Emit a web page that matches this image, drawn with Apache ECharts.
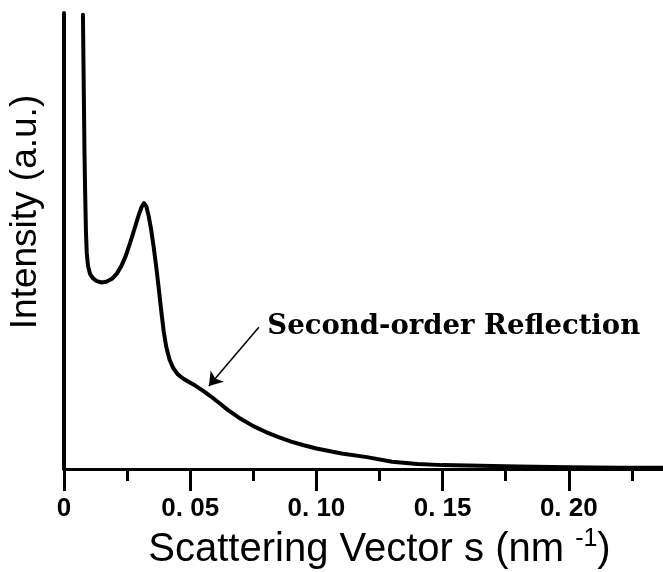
<!DOCTYPE html>
<html><head><meta charset="utf-8">
<script src="https://cdn.jsdelivr.net/npm/echarts@6/dist/echarts.min.js"></script>
<style>html,body{margin:0;padding:0;background:#fff}#c{width:663px;height:572px}</style>
</head><body><div id="c"></div>
<script>
// Scattering vector s (nm^-1)
const sValues = [
  0.0075, 0.0078, 0.0081, 0.0084, 0.0087, 0.0090, 0.0095, 0.0103, 0.0115, 0.0130,
  0.0150, 0.0170, 0.0190, 0.0210, 0.0228, 0.0245, 0.0262, 0.0280, 0.0295, 0.0307,
  0.0317, 0.0326, 0.0335, 0.0345, 0.0355, 0.0365, 0.0375, 0.0385, 0.0395, 0.0405,
  0.0418, 0.0432, 0.0450, 0.0470, 0.0495, 0.0520, 0.0550, 0.0580, 0.0610, 0.0650,
  0.0700, 0.0750, 0.0800, 0.0850, 0.0900, 0.0950, 0.1000, 0.1100, 0.1200, 0.1300,
  0.1400, 0.1500, 0.1650, 0.1800, 0.2000, 0.2200, 0.2375, 0.2500
];
// Intensity (a.u.)
const intensity = [
  99.6, 85.0, 70.0, 60.0, 52.0, 47.5, 44.6, 42.8, 41.8, 41.2,
  40.9, 41.1, 41.7, 42.9, 44.6, 46.8, 49.6, 52.8, 55.5, 57.4,
  58.3, 57.6, 55.6, 52.6, 48.8, 44.5, 39.8, 34.8, 30.2, 26.8,
  24.0, 22.2, 20.8, 19.9, 19.1, 18.3, 17.2, 16.0, 14.7, 12.9,
  11.0, 9.4, 8.1, 7.0, 6.0, 5.2, 4.5, 3.4, 2.6, 1.6,
  1.1, 0.85, 0.7, 0.55, 0.4, 0.3, 0.25, 0.25
];
const xTicks = [0, 0.05, 0.10, 0.15, 0.20];
const xTickLabels = ['0', '0. 05', '0. 10', '0. 15', '0. 20'];
const xAxisTitle = 'Scattering Vector s (nm';
const xAxisSup = '-1';
const yAxisTitle = 'Intensity (a.u.)';
const annotationText = 'Second-order Reflection';
const arrowTail = [0.0772, 31.1];
const arrowTip = [0.0574, 18.2];

const chart = echarts.init(document.getElementById('c'), null, {renderer: 'canvas'});
chart.setOption({
  animation: false,
  backgroundColor: '#fff',
  grid: {left: 64, top: 13, width: 631, height: 456, containLabel: false, outerBoundsMode: 'none'},
  xAxis: {
    type: 'value', min: 0, max: 0.25, interval: 0.05,
    axisLine: {show: true, onZero: false, lineStyle: {color: '#000', width: 3}},
    axisTick: {show: true, length: 22, lineStyle: {color: '#000', width: 3}},
    minorTick: {show: true, splitNumber: 2, length: 12, lineStyle: {color: '#000', width: 3}},
    splitLine: {show: false},
    axisLabel: {
      showMaxLabel: false, margin: 27, color: '#000', fontSize: 26, fontWeight: 'bold',
      fontFamily: 'Liberation Sans',
      formatter: function (v) {
        for (let i = 0; i < xTicks.length; i++) {
          if (Math.abs(xTicks[i] - v) < 1e-6) return xTickLabels[i];
        }
        return '';
      }
    },
    name: '{t|' + xAxisTitle + ' }{s|' + xAxisSup + '}{t|)}',
    nameLocation: 'middle', nameGap: 56,
    nameTextStyle: {
      color: '#000',
      rich: {
        t: {fontSize: 40, fontFamily: 'Liberation Sans', color: '#000', lineHeight: 46},
        s: {fontSize: 25, fontFamily: 'Liberation Sans', color: '#000', lineHeight: 27, verticalAlign: 'top'}
      }
    }
  },
  yAxis: {
    type: 'value', min: 0, max: 100,
    axisLine: {show: true, lineStyle: {color: '#000', width: 4}},
    axisTick: {show: false}, axisLabel: {show: false}, splitLine: {show: false},
    name: yAxisTitle, nameLocation: 'middle', nameRotate: 90, nameGap: 20,
    nameTextStyle: {fontSize: 37, color: '#000', fontFamily: 'Liberation Sans', padding: [0, 0, 0, 58]}
  },
  series: [{
    type: 'line',
    data: sValues.map((s, i) => [s, intensity[i]]),
    showSymbol: false, symbol: 'none', clip: true,
    lineStyle: {color: '#000', width: 4, cap: 'round', join: 'round'},
    markLine: {
      silent: true, symbol: ['none', 'arrow'], symbolSize: 13,
      lineStyle: {color: '#000', width: 1.5, type: 'solid'},
      label: {show: false},
      data: [[{coord: arrowTail}, {coord: arrowTip}]]
    },
    markPoint: {
      silent: true, symbol: 'circle', symbolSize: 1,
      itemStyle: {color: 'rgba(0,0,0,0)'},
      label: {
        show: true, position: 'right', distance: 8, formatter: '{b}',
        color: '#000', fontFamily: 'DejaVu Serif', fontWeight: 'bold', fontSize: 27.5
      },
      data: [{name: annotationText, coord: arrowTail}]
    }
  }]
});
</script>
</body></html>
